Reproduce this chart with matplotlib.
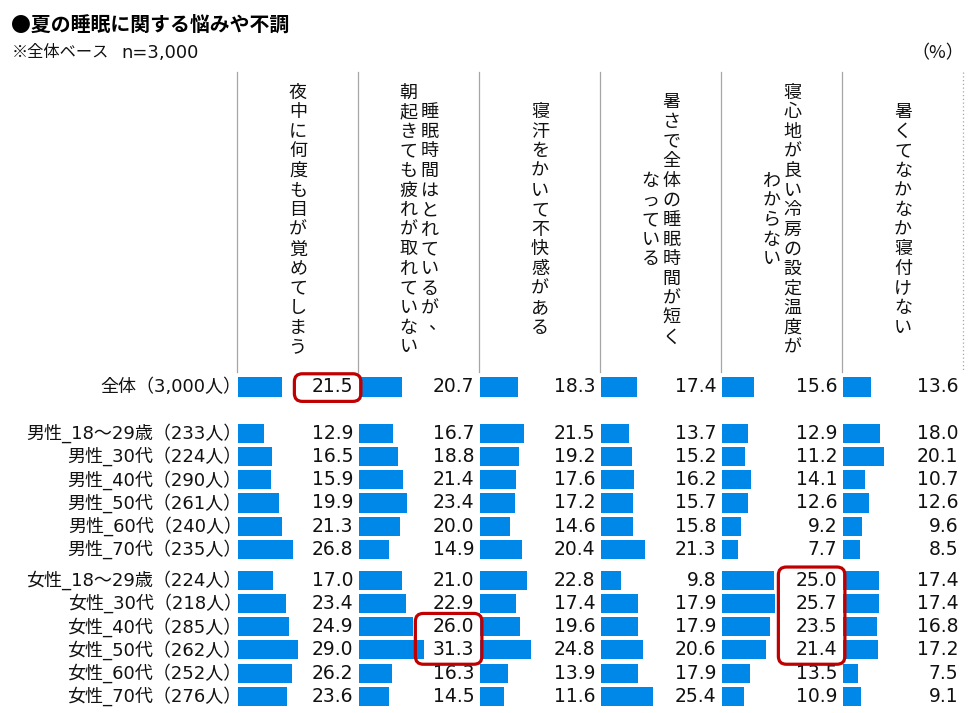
import matplotlib
matplotlib.use('Agg')
import matplotlib.pyplot as plt
import matplotlib.transforms as mtransforms
from matplotlib.patches import FancyBboxPatch
from matplotlib.lines import Line2D

plt.rcParams['font.family'] = ['Noto Sans CJK JP', 'DejaVu Sans']
LATIN_FIRST = ['DejaVu Sans', 'Noto Sans CJK JP']

# ---------------- data ----------------
title = "●夏の睡眠に関する悩みや不調"
subtitle_base = "※全体ベース"
subtitle_n = "n=3,000"
unit_label = "（%）"

headers = [
    ["夜中に何度も目が覚めてしまう"],
    ["睡眠時間はとれているが、", "朝起きても疲れが取れていない"],
    ["寝汗をかいて不快感がある"],
    ["暑さで全体の睡眠時間が短く", "なっている"],
    ["寝心地が良い冷房の設定温度が", "わからない"],
    ["暑くてなかなか寝付けない"],
]

total_label = "全体（3,000人）"
male_labels = ["男性_18～29歳（233人）", "男性_30代（224人）", "男性_40代（290人）",
               "男性_50代（261人）", "男性_60代（240人）", "男性_70代（235人）"]
female_labels = ["女性_18～29歳（224人）", "女性_30代（218人）", "女性_40代（285人）",
                 "女性_50代（262人）", "女性_60代（252人）", "女性_70代（276人）"]

total_values = [21.5, 20.7, 18.3, 17.4, 15.6, 13.6]
male_values = [
    [12.9, 16.7, 21.5, 13.7, 12.9, 18.0],
    [16.5, 18.8, 19.2, 15.2, 11.2, 20.1],
    [15.9, 21.4, 17.6, 16.2, 14.1, 10.7],
    [19.9, 23.4, 17.2, 15.7, 12.6, 12.6],
    [21.3, 20.0, 14.6, 15.8, 9.2, 9.6],
    [26.8, 14.9, 20.4, 21.3, 7.7, 8.5],
]
female_values = [
    [17.0, 21.0, 22.8, 9.8, 25.0, 17.4],
    [23.4, 22.9, 17.4, 17.9, 25.7, 17.4],
    [24.9, 26.0, 19.6, 17.9, 23.5, 16.8],
    [29.0, 31.3, 24.8, 20.6, 21.4, 17.2],
    [26.2, 16.3, 13.9, 17.9, 13.5, 7.5],
    [23.6, 14.5, 11.6, 25.4, 10.9, 9.1],
]

# highlighted cells: (column index, first row label, last row label)
highlights = [
    (0, "全体（3,000人）", "全体（3,000人）"),
    (1, "女性_40代（285人）", "女性_50代（262人）"),
    (4, "女性_18～29歳（224人）", "女性_50代（262人）"),
]

# ---------------- layout ----------------
W, H = 975, 713
DPI = 100
BAR_COLOR = '#0088E8'
RED = '#C00000'
LINE_GRAY = '#A6A6A6'
TEXT = '#111111'

def fx(px):
    return px / W

def fy(py):
    return 1 - py / H

ROW_PX = 23.2
ROW0_PX = 387.0
COL_LEFT = 237.5
COL_W = 121.0
PX_PER_PCT = 2.08
AX_TOP = 372.0
HEAD_TOP = 72.0

labels = [total_label] + male_labels + female_labels
values = [total_values] + male_values + female_values
ypos = [0.0] + [2.0 + k for k in range(len(male_labels))] + \
       [8.33 + k for k in range(len(female_labels))]
ypos_of = dict(zip(labels, ypos))

fig = plt.figure(figsize=(W / DPI, H / DPI), dpi=DPI)

y_top = (AX_TOP - ROW0_PX) / ROW_PX
y_bot = (H - ROW0_PX) / ROW_PX

axes = []
for i in range(len(headers)):
    left = COL_LEFT + COL_W * i
    ax = fig.add_axes([fx(left), fy(H), COL_W / W, (H - AX_TOP) / H])
    ax.set_xlim(0, COL_W / PX_PER_PCT)
    ax.set_ylim(y_bot, y_top)
    ax.axis('off')
    col_vals = [row[i] for row in values]
    ax.barh(ypos, col_vals, height=0.82, color=BAR_COLOR, left=0)
    tr = mtransforms.blended_transform_factory(ax.transAxes, ax.transData)
    for y, v in zip(ypos, col_vals):
        ax.text(0.958, y, f"{v:.1f}", transform=tr, ha='right', va='center',
                fontsize=13.5, color=TEXT, family=LATIN_FIRST)
    axes.append(ax)

# row labels
tr0 = mtransforms.blended_transform_factory(axes[0].transAxes, axes[0].transData)
for y, lab in zip(ypos, labels):
    axes[0].text(0.035, y, lab, transform=tr0, ha='right', va='center',
                 fontsize=13, color=TEXT, family=LATIN_FIRST)

# column separator lines in header
for i in range(len(headers) + 1):
    x = COL_LEFT - 0.5 + COL_W * i
    ls = (0, (1, 2)) if i == len(headers) else '-'
    fig.add_artist(Line2D([fx(x), fx(x)], [fy(HEAD_TOP), fy(AX_TOP)],
                          color=LINE_GRAY, lw=0.9, linestyle=ls))

# vertical header text
HEAD_CY = 220.0
PITCH = 19.6
LINE_GAP = 21.0
for i, lines in enumerate(headers):
    cx = COL_LEFT + COL_W * i + COL_W / 2
    n_lines = len(lines)
    for j, line in enumerate(lines):
        lx = cx + (n_lines - 1) / 2 * LINE_GAP - j * LINE_GAP
        n = len(line)
        for k, ch in enumerate(line):
            cy = HEAD_CY + (k - (n - 1) / 2) * PITCH
            dx, dy = 0, 0
            if ch in "、。":
                dx, dy = 8, -4
            fig.text(fx(lx + dx), fy(cy + dy), ch, ha='center', va='center',
                     fontsize=13, color=TEXT)

# titles
fig.text(fx(11), fy(24), title, ha='left', va='center', fontsize=14.3,
         fontweight='bold', color='#000000')
fig.text(fx(12), fy(53), subtitle_base, ha='left', va='center', fontsize=11.7,
         color=TEXT)
fig.text(fx(121), fy(53), subtitle_n, ha='left', va='center', fontsize=13,
         color=TEXT, family=LATIN_FIRST)
fig.text(fx(964), fy(53), unit_label, ha='right', va='center', fontsize=13,
         color=TEXT)

# highlight boxes
for col, r0, r1 in highlights:
    ax = axes[col]
    tr = mtransforms.blended_transform_factory(ax.transAxes, ax.transData)
    (x0, ya) = tr.transform((0.47, ypos_of[r0] - 0.57))
    (x1, yb) = tr.transform((1.02, ypos_of[r1] + 0.62))
    ymin, ymax = min(ya, yb), max(ya, yb)
    patch = FancyBboxPatch((x0, ymin), x1 - x0, ymax - ymin,
                           boxstyle="round,pad=0,rounding_size=8",
                           transform=mtransforms.IdentityTransform(),
                           facecolor='none', edgecolor=RED, lw=2.3, zorder=10)
    fig.add_artist(patch)

fig.savefig('out.png', dpi=DPI, facecolor='white')
